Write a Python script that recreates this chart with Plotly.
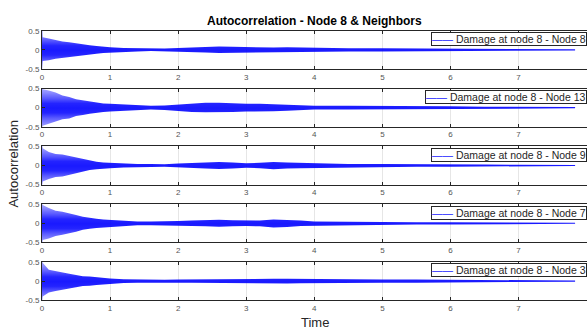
import plotly.graph_objects as go

# ---- data (envelope of the dense autocorrelation trace) ----
time = [0, 0.01, 0.1, 0.2, 0.3, 0.4, 0.5, 0.6, 0.7, 0.8, 0.9, 1.0, 1.2, 1.4, 1.6, 1.8,
        2.0, 2.2, 2.4, 2.6, 2.8, 3.0, 3.2, 3.4, 3.6, 3.8, 4.0, 4.5, 5.0, 5.5, 6.0, 6.5,
        7.0, 7.5, 7.83]

labels = ["Damage at node 8 - Node 8", "Damage at node 8 - Node 13",
          "Damage at node 8 - Node 9", "Damage at node 8 - Node 7",
          "Damage at node 8 - Node 3"]

node8_upper = [1.0, .33, .30, .25, .22, .20, .17, .14, .12, .10, .08, .07, .05, .04, .03, .035,
               .05, .06, .07, .09, .08, .07, .06, .06, .07, .06, .05, .04, .045, .04, .03, .025,
               .02, .02, .015]
node8_lower = [-.6, -.29, -.27, -.23, -.21, -.19, -.17, -.14, -.12, -.10, -.08, -.07, -.05, -.04, -.03, -.035,
               -.05, -.06, -.07, -.08, -.08, -.07, -.06, -.06, -.07, -.06, -.05, -.04, -.04, -.04, -.03, -.025,
               -.02, -.02, -.015]

node13_upper = [1.0, .48, .45, .40, .32, .28, .22, .19, .16, .13, .11, .10, .08, .06, .05, .06,
                .08, .10, .13, .13, .11, .10, .10, .09, .08, .07, .05, .05, .05, .045, .035, .025,
                .02, .02, .015]
node13_lower = [-.6, -.47, -.42, -.36, -.30, -.28, -.22, -.19, -.16, -.13, -.11, -.10, -.08, -.06, -.05, -.06,
                -.08, -.11, -.12, -.12, -.11, -.10, -.09, -.09, -.08, -.07, -.05, -.05, -.05, -.04, -.03, -.025,
                -.02, -.02, -.015]

node9_upper = [1.0, .45, .35, .30, .29, .25, .20, .16, .12, .10, .08, .07, .05, .04, .04, .035,
               .05, .06, .08, .09, .08, .06, .07, .09, .08, .07, .05, .04, .04, .03, .03, .025,
               .02, .02, .015]
node9_lower = [-.6, -.42, -.35, -.30, -.29, -.25, -.20, -.16, -.12, -.10, -.08, -.07, -.05, -.04, -.04, -.035,
               -.05, -.06, -.08, -.09, -.08, -.06, -.07, -.10, -.08, -.07, -.05, -.04, -.04, -.03, -.03, -.025,
               -.02, -.02, -.015]

node7_upper = [1.0, .48, .40, .33, .30, .27, .22, .17, .14, .12, .10, .09, .07, .05, .05, .05,
               .06, .07, .08, .09, .08, .07, .07, .10, .09, .07, .05, .04, .04, .03, .03, .025,
               .02, .02, .015]
node7_lower = [-.6, -.44, -.40, -.33, -.30, -.27, -.22, -.17, -.14, -.12, -.10, -.09, -.07, -.05, -.05, -.05,
               -.06, -.07, -.08, -.09, -.08, -.07, -.08, -.11, -.10, -.07, -.05, -.04, -.04, -.03, -.03, -.025,
               -.02, -.02, -.015]

node3_upper = [1.0, .48, .30, .26, .22, .19, .16, .13, .12, .10, .08, .07, .05, .04, .04, .035,
               .04, .045, .05, .055, .06, .06, .06, .06, .06, .055, .05, .04, .04, .04, .035, .03,
               .03, .02, .015]
node3_lower = [-.6, -.40, -.30, -.26, -.22, -.19, -.16, -.13, -.12, -.10, -.08, -.07, -.05, -.04, -.04, -.035,
               -.04, -.045, -.05, -.055, -.06, -.06, -.06, -.06, -.06, -.055, -.05, -.04, -.04, -.04, -.035, -.03,
               -.03, -.02, -.015]

uppers = [node8_upper, node13_upper, node9_upper, node7_upper, node3_upper]
lowers = [node8_lower, node13_lower, node9_lower, node7_lower, node3_lower]

x_ticks = [0, 1, 2, 3, 4, 5, 6, 7, 8]
y_ticks = [-0.5, 0, 0.5]
y_ticktext = ["-0.5", "0", "0.5"]

# ---- layout geometry ----
W, H = 587, 335
ML = 42
TOPS = [27.5, 86.9, 146.3, 205.7, 265.1]
PH = 39.3
FONT = "Liberation Sans, Arial, sans-serif"
AXC = "#262626"

fig = go.Figure()

grad = dict(type="vertical", start=-0.5, stop=0.5, colorscale=[
    [0.0, "rgba(0,0,255,0.35)"], [0.1, "rgba(0,0,255,0.45)"], [0.25, "rgba(0,0,255,0.65)"],
    [0.38, "rgba(0,0,255,0.86)"], [0.5, "rgba(0,0,255,0.9)"], [0.62, "rgba(0,0,255,0.86)"],
    [0.75, "rgba(0,0,255,0.65)"], [0.9, "rgba(0,0,255,0.45)"], [1.0, "rgba(0,0,255,0.35)"]])

layout_upd = {}
annotations = []
for i in range(5):
    sfx = "" if i == 0 else str(i + 1)
    top = TOPS[i]
    dom = [1 - (top + PH) / H, 1 - top / H]
    layout_upd[f"xaxis{sfx}"] = dict(
        domain=[0, 1], range=[0, 8.005], anchor=f"y{sfx}",
        showline=True, linecolor=AXC, linewidth=1, mirror="ticks",
        ticks="inside", ticklen=3, tickcolor=AXC, tickwidth=1,
        tickvals=x_ticks, ticktext=[str(v) for v in x_ticks],
        tickfont=dict(size=8, color="#555555", family=FONT),
        showgrid=True, gridcolor="#e6e6e6", gridwidth=1, zeroline=False,
    )
    layout_upd[f"yaxis{sfx}"] = dict(
        domain=dom, range=[-0.5, 0.5], anchor=f"x{sfx}",
        showline=True, linecolor=AXC, linewidth=1, mirror=False,
        ticks="inside", ticklen=3, tickcolor=AXC, tickwidth=1,
        tickvals=y_ticks, ticktext=y_ticktext,
        tickfont=dict(size=8, color="#555555", family=FONT),
        showgrid=False, zeroline=False,
    )
    t = time
    fig.add_trace(go.Scatter(
        x=t + t[::-1], y=uppers[i] + lowers[i][::-1],
        fill="toself", mode="lines", line=dict(width=0, color="blue"),
        fillgradient=grad, name=labels[i], showlegend=False, hoverinfo="skip",
        xaxis=f"x{sfx}", yaxis=f"y{sfx}",
    ))
    # legend box (one per panel, top-right as in the reference)
    annotations.append(dict(
        text="<span style='color:#1a1aff'>\u2014\u2014</span> " + labels[i],
        xref="paper", yref="paper", x=1, xanchor="right",
        y=1 - (top + 1.5) / H, yanchor="top", showarrow=False,
        bgcolor="white", bordercolor=AXC, borderwidth=1, borderpad=0,
        font=dict(size=10.5, color="#262626", family=FONT),
    ))

fig.update_layout(**layout_upd)

annotations += [
    dict(text="<b>Autocorrelation - Node 8 & Neighbors</b>", xref="paper", yref="paper",
         x=0.5, y=1 - 17 / H, xanchor="center", yanchor="middle", showarrow=False,
         font=dict(size=12, color="black", family=FONT)),
    dict(text="Autocorrelation", xref="paper", yref="paper", textangle=-90,
         x=(14 - ML) / (W - ML), y=1 - 165 / H, xanchor="center", yanchor="middle",
         showarrow=False, font=dict(size=13, color=AXC, family=FONT)),
    dict(text="Time", xref="paper", yref="paper",
         x=(315 - ML) / (W - ML), y=1 - 327 / H, xanchor="center", yanchor="middle",
         showarrow=False, font=dict(size=13, color=AXC, family=FONT)),
]

fig.update_layout(
    width=W, height=H,
    margin=dict(l=ML, r=0, t=0, b=0),
    paper_bgcolor="white", plot_bgcolor="white",
    font=dict(family=FONT),
    showlegend=False,
    annotations=annotations,
)

fig.write_html("out.html")
